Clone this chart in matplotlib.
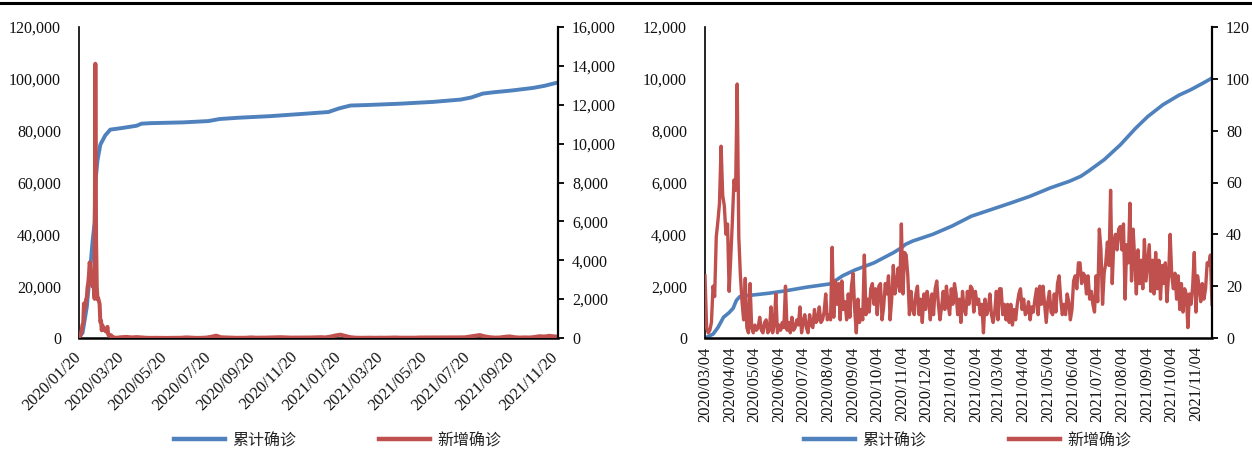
import matplotlib
matplotlib.use("Agg")
import matplotlib.pyplot as plt
import matplotlib.dates as mdates
from matplotlib.ticker import MultipleLocator, FuncFormatter
from matplotlib.lines import Line2D
import pandas as pd

plt.rcParams['font.family'] = ['Liberation Serif', 'Noto Sans CJK SC', 'DejaVu Sans']

# ---------------- data ----------------
legend_labels = ["累计确诊", "新增确诊"]

# Left panel: cumulative confirmed (left axis) and daily new confirmed (right axis)
left_cum_dates = ["2020-01-20", "2020-01-25", "2020-01-31", "2020-02-04", "2020-02-08",
                  "2020-02-11", "2020-02-12", "2020-02-15", "2020-02-19", "2020-02-26",
                  "2020-03-04", "2020-03-20", "2020-04-10", "2020-04-17", "2020-04-30",
                  "2020-06-15", "2020-07-20", "2020-08-05", "2020-09-01", "2020-10-15",
                  "2020-12-01", "2021-01-05", "2021-01-20", "2021-02-05", "2021-03-01",
                  "2021-04-15", "2021-06-01", "2021-07-10", "2021-07-25", "2021-08-10",
                  "2021-08-25", "2021-09-20", "2021-10-20", "2021-11-05", "2021-11-15",
                  "2021-11-24"]
left_cum_values = [300, 2000, 12000, 24000, 37000,
                   44600, 59800, 68500, 74600, 78200,
                   80400, 81000, 81900, 82700, 82900,
                   83200, 83700, 84500, 85000, 85600,
                   86500, 87200, 88600, 89700, 89900,
                   90400, 91100, 92000, 92800, 94300,
                   94800, 95500, 96500, 97300, 98000,
                   98600]

left_new_early_start = "2020-01-20"   # daily values
left_new_early = [77, 149, 131, 259, 444, 688, 769, 1771, 1459, 1737, 1981, 2099,
                  2590, 2829, 3235, 3887, 3694, 3143, 3399, 2656, 3062, 2478, 2015,
                  14108, 5090, 2641, 2009, 2048, 1886, 1749, 820, 889, 397, 648, 409,
                  508, 406, 433, 327, 427, 573,
                  202, 125, 119, 139, 143, 99, 44, 40, 19, 24, 15, 8, 11, 20, 16, 21,
                  13, 34, 39, 41]
left_new_late_start = "2020-03-27"    # weekly values
left_new_late = [55, 30, 45, 27, 10, 5, 8, 5, 3, 5,
                 6, 12, 30, 15, 5, 8, 20, 60, 120, 35,
                 25, 20, 10, 10, 12, 30, 15, 15, 20, 25,
                 25, 40, 30, 20, 20, 15, 20, 25, 30, 40,
                 30, 70, 130, 170, 100, 40, 15, 10, 12, 15,
                 10, 15, 12, 20, 25, 15, 15, 10, 15, 25,
                 25, 30, 30, 20, 25, 20, 20, 30, 35, 70,
                 110, 150, 80, 40, 20, 25, 60, 80, 40, 20,
                 30, 25, 50, 90, 75, 110, 80, 60]

# Right panel: cumulative (left axis) and daily new (right axis)
right_cum_dates = ["2020-03-04", "2020-03-14", "2020-03-20", "2020-03-27", "2020-04-03",
                   "2020-04-08", "2020-04-12", "2020-04-16", "2020-04-20", "2020-05-03",
                   "2020-05-23", "2020-06-12", "2020-07-08", "2020-08-07", "2020-08-22",
                   "2020-09-06", "2020-09-30", "2020-10-24", "2020-11-03", "2020-11-08",
                   "2020-11-17", "2020-12-12", "2021-01-05", "2021-01-29", "2021-02-23",
                   "2021-03-19", "2021-04-12", "2021-05-07", "2021-05-31", "2021-06-14",
                   "2021-06-24", "2021-07-13", "2021-08-02", "2021-08-21", "2021-09-05",
                   "2021-09-24", "2021-10-14", "2021-10-28", "2021-11-12", "2021-11-24"]
right_cum_values = [0, 150, 400, 800, 980,
                    1150, 1450, 1590, 1625, 1660,
                    1730, 1820, 1960, 2090, 2400,
                    2620, 2900, 3290, 3480, 3610,
                    3740, 4000, 4320, 4700, 4960,
                    5210, 5470, 5790, 6050, 6240,
                    6450, 6880, 7450, 8090, 8540,
                    9000, 9370, 9570, 9820, 10030]

right_new_start = "2020-03-04"        # one value every 2 days
right_new = [24, 4, 2, 3, 6, 20, 16, 39, 45, 52,
             74, 55, 51, 40, 44, 18, 31, 45, 61, 57,
             98, 39, 24, 14, 7, 23, 4, 2, 21, 4,
             2, 5, 3, 4, 8, 3, 2, 6, 7, 2,
             3, 12, 2, 5, 17, 2, 5, 3, 6, 4,
             20, 3, 6, 2, 8, 3, 4, 7, 5, 12,
             2, 6, 9, 4, 2, 9, 5, 4, 11, 6,
             7, 12, 6, 7, 10, 17, 7, 9, 7, 35,
             8, 22, 13, 21, 7, 22, 11, 14, 7, 17,
             8, 20, 25, 11, 2, 15, 6, 11, 7, 32,
             9, 15, 10, 19, 21, 13, 19, 9, 20, 21,
             7, 12, 21, 17, 24, 7, 15, 28, 17, 21,
             27, 18, 44, 17, 33, 32, 24, 9, 18, 11,
             9, 17, 20, 9, 15, 6, 17, 11, 18, 14,
             7, 17, 9, 19, 22, 13, 7, 12, 18, 11,
             20, 13, 9, 19, 13, 21, 17, 9, 15, 6,
             18, 11,
             9, 18, 13, 20, 19, 10, 18, 13, 15, 9,
             13, 2, 15, 9, 11, 17, 9, 6, 10, 18,
             7, 19, 19, 9, 13, 7, 13, 6, 13, 5,
             11, 7, 13, 17, 19, 11, 15, 9, 10, 14,
             7, 12, 10, 15, 19, 9, 20, 13, 20, 13,
             6, 14, 18, 10, 9, 17, 10, 21, 24, 15,
             9, 13, 9, 17, 14, 7, 11, 22, 24, 19,
             29, 29, 21, 25,
             24, 17, 24, 15, 18, 13, 10, 24, 14, 42,
             34, 13, 25, 29, 37, 28, 57, 21, 37, 40,
             34, 42, 43, 34, 44, 15, 36, 29, 52, 22,
             42, 30, 17, 34, 21, 30, 19, 38, 22, 29,
             36, 18, 30, 17, 33, 19, 30, 15, 28, 21,
             29, 14, 24, 40, 24, 19, 25, 15, 24, 11,
             21, 10, 19, 17, 4, 17, 13, 20, 33, 10,
             24, 20, 14, 21, 15, 19, 29, 28, 32, 13]

left_xlim = ("2020-01-20", "2021-11-24")
right_xlim = ("2020-03-04", "2021-11-24")

# ---------------- drawing ----------------
BLUE = "#4F81BD"
RED = "#C0504D"
W, H = 1252, 450

fig = plt.figure(figsize=(W / 100, H / 100), dpi=100)
fig.patch.set_facecolor("white")

ax1 = fig.add_axes([79 / W, 1 - 338 / H, 479 / W, 311 / H])
ax1r = ax1.twinx()
ax2 = fig.add_axes([705 / W, 1 - 338 / H, 507 / W, 311 / H])
ax2r = ax2.twinx()

# left panel
ax1.plot(pd.to_datetime(left_cum_dates), left_cum_values, color=BLUE, lw=2.8,
         solid_capstyle="round", solid_joinstyle="round")
l_early_dates = pd.date_range(left_new_early_start, periods=len(left_new_early), freq="D")
l_late_dates = pd.date_range(left_new_late_start, periods=len(left_new_late), freq="7D")
ax1r.plot(list(l_early_dates) + list(l_late_dates), left_new_early + left_new_late,
          color=RED, lw=2.9, solid_joinstyle="round")

# right panel
ax2.plot(pd.to_datetime(right_cum_dates), right_cum_values, color=BLUE, lw=2.6,
         solid_capstyle="round", solid_joinstyle="round")
r_dates = pd.date_range(right_new_start, periods=len(right_new), freq="2D")
ax2r.plot(r_dates, right_new, color=RED, lw=2.4, solid_joinstyle="round")

comma = FuncFormatter(lambda v, p: f"{int(round(v)):,}")


def style(ax, axr, lmax, lstep, rmax, rstep, xlim, xpad):
    ax.set_xlim(pd.Timestamp(xlim[0]), pd.Timestamp(xlim[1]))
    ax.set_ylim(0, lmax)
    axr.set_ylim(0, rmax)
    ax.yaxis.set_major_locator(MultipleLocator(lstep))
    axr.yaxis.set_major_locator(MultipleLocator(rstep))
    ax.yaxis.set_major_formatter(comma)
    axr.yaxis.set_major_formatter(comma)
    for s in ("top", "right"):
        ax.spines[s].set_visible(False)
    for s in ("top", "left", "bottom"):
        axr.spines[s].set_visible(False)
    ax.spines["left"].set_color("black")
    ax.spines["left"].set_linewidth(1.2)
    ax.spines["bottom"].set_color("black")
    ax.spines["bottom"].set_linewidth(1.8)
    axr.spines["right"].set_color("black")
    axr.spines["right"].set_linewidth(1.6)
    ax.tick_params(axis="y", length=0, pad=13, labelsize=11.5, colors="#111111")
    axr.tick_params(axis="y", length=4, width=1.4, direction="out", pad=6,
                    labelsize=11.5, colors="#111111")
    ax.tick_params(axis="x", length=0, pad=xpad, labelsize=12, colors="#111111")


style(ax1, ax1r, 120000, 20000, 16000, 2000, left_xlim, 12)
style(ax2, ax2r, 12000, 2000, 120, 20, right_xlim, 6)

ax1.xaxis.set_major_locator(mdates.MonthLocator(bymonth=range(1, 13, 2), bymonthday=20))
ax1.xaxis.set_major_formatter(mdates.DateFormatter("%Y/%m/%d"))
for lbl in ax1.get_xticklabels():
    lbl.set_rotation(45)
    lbl.set_ha("right")
    lbl.set_va("center")
    lbl.set_rotation_mode("anchor")

ax2.xaxis.set_major_locator(mdates.MonthLocator(bymonthday=4))
ax2.xaxis.set_major_formatter(mdates.DateFormatter("%Y/%m/%d"))
for lbl in ax2.get_xticklabels():
    lbl.set_rotation(90)
    lbl.set_ha("right")
    lbl.set_va("center")
    lbl.set_rotation_mode("anchor")

# legends
handles = [Line2D([], [], color=BLUE, lw=3.2), Line2D([], [], color=RED, lw=3.2)]
for cx in (337.5 / W, 967.5 / W):
    fig.legend(handles, legend_labels, loc="center", bbox_to_anchor=(cx, 1 - 441 / H),
               ncol=2, frameon=False, fontsize=11.5, handlelength=3.2,
               handletextpad=0.45, columnspacing=5.2, labelcolor="#222222")

# top rule
fig.add_artist(Line2D([0, 1], [1 - 2.5 / H, 1 - 2.5 / H], color="black", lw=2.2,
                      transform=fig.transFigure))

fig.savefig("out.png", dpi=100, facecolor="white")
